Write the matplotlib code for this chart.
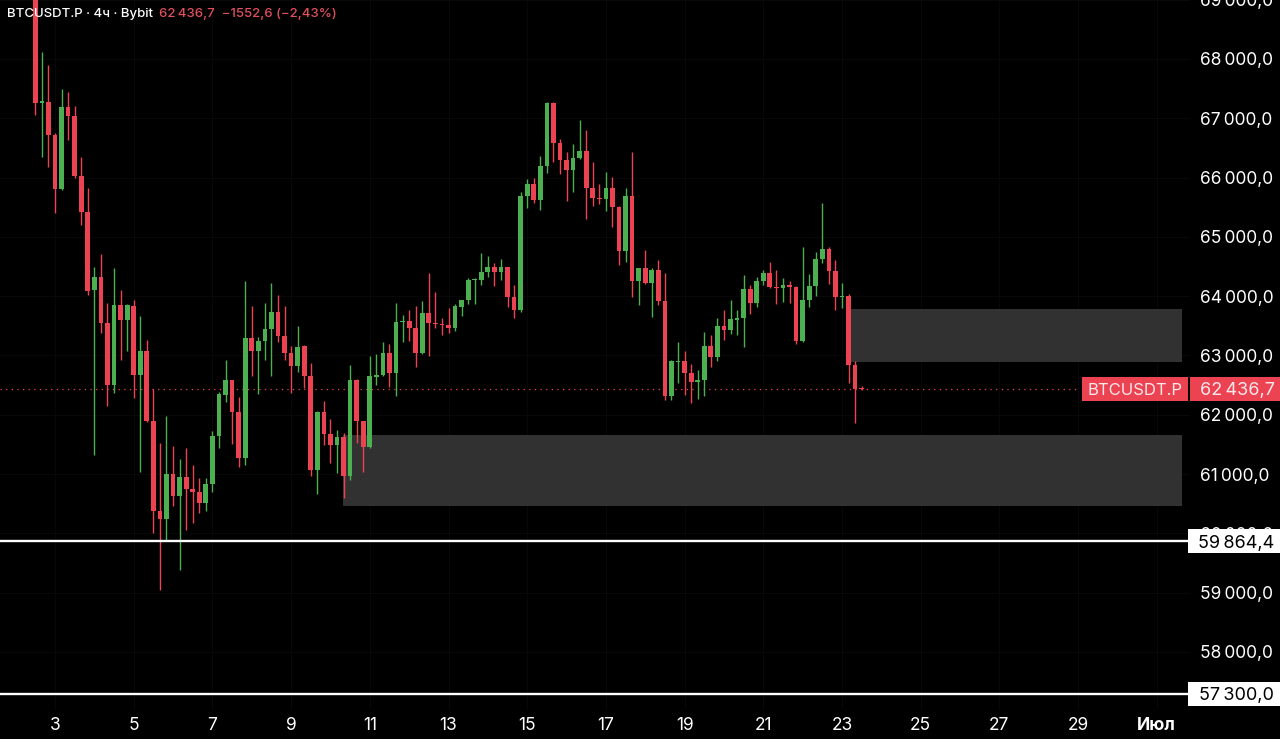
import numpy as np
import matplotlib
matplotlib.use("Agg")
import matplotlib.pyplot as plt
from matplotlib.patches import Rectangle
from matplotlib.ticker import FixedLocator, FuncFormatter
from matplotlib.transforms import blended_transform_factory

plt.rcParams["font.family"] = ["Inter", "DejaVu Sans"]

# BTCUSDT.P 4h candles, first one = 2 June 12:00
opens = [69080, 67260, 67280, 66720, 65810, 67190, 67040, 66030, 65420, 64100,
         64320, 63540, 62500, 63850, 63600, 63840, 62670, 63070, 61900, 60370,
         60240, 61000, 60630, 60950, 60750, 60700, 60520, 60840, 61650, 62340,
         62580, 62040, 61270, 63290, 63070, 63250, 63440, 63730, 63330, 63040,
         62830, 63160, 62660, 61070, 62040, 61680, 61490, 61620, 60960, 62580,
         61890, 61450, 62640, 62670, 63050, 62700, 63560, 63590, 63470, 63040,
         63710, 63540, 63530, 63510, 63470, 63820, 63930, 64270, 64270, 64400,
         64490, 64400, 64490, 63980, 63760, 65690, 65890, 65620, 66200, 67260,
         66580, 66290, 66120, 66330, 66450, 65820, 65650, 65640, 65820, 65500,
         64770, 65690, 64260, 64470, 64230, 64450, 63920, 62310, 62890, 62910,
         62710, 62560, 62580, 63160, 62980, 63490, 63430, 63600, 63630, 64120,
         63890, 64250, 64390, 64150, 64130, 64190, 64160, 63250, 63930, 64170,
         64620, 64790, 64430, 63980, 64010, 62840, 62450]
highs = [69200, 68120, 67900, 66750, 67490, 67450, 67210, 66340, 65820, 64500,
         64720, 63880, 64470, 64100, 63870, 63940, 63670, 63260, 62430, 61520,
         61980, 61480, 61250, 61440, 61150, 60930, 60930, 61720, 62380, 62930,
         62590, 62300, 64250, 63840, 63320, 63880, 64220, 64020, 63840, 63160,
         63500, 63180, 62870, 62060, 62230, 61930, 61750, 61690, 62840, 62600,
         61900, 62990, 63030, 63220, 63190, 63890, 63680, 63760, 63840, 63920,
         64390, 64070, 63640, 63800, 63870, 63940, 64310, 64310, 64730, 64670,
         64560, 64620, 64500, 64190, 65760, 65970, 65990, 66370, 67270, 67280,
         66650, 66440, 66570, 66970, 66800, 66270, 65900, 66100, 66010, 65520,
         65820, 66440, 64480, 64780, 64470, 64610, 64390, 62920, 63230, 63070,
         62860, 62750, 63390, 63340, 63630, 63770, 63940, 63770, 64360, 64190,
         64330, 64450, 64570, 64440, 64300, 64260, 64180, 64830, 64380, 64750,
         65570, 64830, 64610, 64230, 64030, 62900, 62480]
lows = [67060, 66350, 66180, 65400, 65790, 66630, 66000, 65200, 64020, 61320,
        63380, 62140, 62360, 62930, 63070, 62280, 61040, 61880, 60000, 59050,
        59890, 60460, 59380, 60060, 60170, 60340, 60370, 60690, 61440, 62220,
        61510, 61120, 61160, 62660, 62350, 62930, 62660, 63220, 62930, 62370,
        62720, 62450, 60970, 60670, 61490, 61180, 61020, 60590, 60900, 61530,
        61040, 61440, 62500, 62650, 62470, 62310, 63230, 63250, 62800, 63020,
        62990, 63460, 63340, 63380, 63420, 63670, 63870, 63870, 64190, 64330,
        64170, 64270, 63820, 63630, 63740, 65480, 65570, 65460, 66070, 66270,
        66060, 65610, 65760, 66310, 65310, 65520, 65550, 65430, 65160, 64530,
        64570, 63990, 63850, 64200, 63650, 63850, 62250, 62250, 62530, 62340,
        62200, 62260, 62310, 62810, 62910, 63260, 63360, 63340, 63150, 63700,
        63820, 64190, 64130, 63870, 63900, 63890, 63200, 63230, 63820, 64000,
        64560, 64210, 63760, 63800, 62530, 61860, 62420]
closes = [67260, 67290, 66720, 65810, 67190, 67040, 66030, 65420, 64090, 64320,
          63540, 62500, 63850, 63600, 63850, 62670, 63070, 61900, 60370, 60240,
          61000, 60630, 60950, 60750, 60700, 60520, 60840, 61640, 62350, 62580,
          62040, 61270, 63290, 63070, 63250, 63440, 63730, 63330, 63040, 62830,
          63150, 62660, 61070, 62040, 61680, 61490, 61620, 60960, 62580, 61890,
          61450, 62660, 62670, 63050, 62700, 63570, 63590, 63470, 63040, 63710,
          63540, 63530, 63510, 63470, 63840, 63930, 64270, 64290, 64400, 64490,
          64400, 64490, 63980, 63760, 65690, 65890, 65620, 66200, 67260, 66580,
          66290, 66120, 66330, 66450, 65820, 65650, 65640, 65820, 65500, 64770,
          65690, 64260, 64470, 64230, 64450, 63920, 62310, 62900, 62910, 62710,
          62560, 62580, 63160, 62980, 63490, 63430, 63610, 63630, 64120, 63890,
          64250, 64390, 64150, 64130, 64190, 64160, 63250, 63930, 64170, 64620,
          64790, 64430, 63980, 64010, 62840, 62430, 62436.7]

last_price = 62436.7
support_1 = 59864.4
support_2 = 57300.0
zone_hi = (23.10, 31.64, 62890, 63784)   # day from, day to, price low, price high
zone_lo = (10.32, 31.64, 60462, 61659)
price_ticks = list(range(58000, 70000, 1000))
day_ticks = [3, 5, 7, 9, 11, 13, 15, 17, 19, 21, 23, 25, 27, 29, 31]
day_labels = ["3", "5", "7", "9", "11", "13", "15", "17", "19", "21", "23",
              "25", "27", "29", "Июл"]

GREEN = "#4caf50"
RED = "#eb4352"
W, H = 1280, 739


def fmt_price(v, pos=None):
    return f"{v:,.1f}".replace(",", "\u2009").replace(".", ",")


o = np.array(opens, float)
h = np.array(highs, float)
l = np.array(lows, float)
c = np.array(closes, float)
t = 2.5 + np.arange(len(o)) / 6.0
cols = np.where(c >= o, GREEN, RED)

fig = plt.figure(figsize=(W / 100, H / 100), dpi=100, facecolor="black")
ax = fig.add_axes([0, 29 / H, 1190 / W, 715 / H])
ax.set_facecolor("black")
for s in ax.spines.values():
    s.set_visible(False)

# pixel mapping: day 3 -> x 55, 39.35 px/day ; 68000 -> y 59, 59.3 px per 1000
ax.set_xlim(3 - 55 / 39.35, 3 + 1135 / 39.35)
ax.set_ylim(68000 - (710 - 59) / 0.0593, 68000 + 64 / 0.0593)

ax.yaxis.set_major_locator(FixedLocator(price_ticks))
ax.yaxis.set_major_formatter(FuncFormatter(fmt_price))
ax.yaxis.tick_right()
ax.tick_params(axis="y", length=0, pad=7, labelcolor="white", labelsize=12.5)
ax.set_xticks(day_ticks)
ax.set_xticklabels(day_labels)
ax.tick_params(axis="x", length=0, pad=5, labelcolor="white", labelsize=12.5)
ax.get_xticklabels()[-1].set_fontweight("bold")
ax.grid(color="#080808", linewidth=0.8)
ax.set_axisbelow(True)

for z in (zone_hi, zone_lo):
    ax.add_patch(Rectangle((z[0], z[2]), z[1] - z[0], z[3] - z[2],
                           facecolor="#313131", edgecolor="none", zorder=1))

ax.vlines(t, l, h, colors=cols, linewidth=1.0, zorder=3)
ax.bar(t, np.maximum(np.abs(c - o), 22), bottom=np.minimum(o, c),
       width=0.12, color=cols, zorder=4)

ax.axhline(last_price, xmin=0, xmax=1080 / 1190, color=RED,
           linewidth=0.9, linestyle=(0, (1, 3.5)), zorder=2)
ax.axhline(support_1, color="white", linewidth=1.7, zorder=5)
ax.axhline(support_2, color="white", linewidth=1.7, zorder=5)

# price-scale labels
tr = blended_transform_factory(fig.transFigure, ax.transData)
box_h = 24 / 0.0593
labels = [
    (1082, 1188, last_price, "BTCUSDT.P", RED, "#ffe8ea", 12),
    (1190, 1280, last_price, fmt_price(last_price), RED, "#ffe8ea", 13),
    (1188, 1280, support_1, fmt_price(support_1), "white", "black", 13),
    (1188, 1280, support_2, fmt_price(support_2), "white", "black", 13),
]
for x0, x1, y, txt, bg, fg, fs in labels:
    ax.add_patch(Rectangle((x0 / W, y - box_h / 2), (x1 - x0) / W, box_h,
                           transform=tr, facecolor=bg, edgecolor="none",
                           clip_on=False, zorder=8))
    ax.text((x0 + x1) / 2 / W + (2 / W if x0 > 1100 else 0), y, txt,
            transform=tr, ha="center", va="center_baseline", color=fg,
            fontsize=fs, clip_on=False, zorder=9)

fig.text(7 / W, 1 - 14 / H, "BTCUSDT.P · 4ч · Bybit", color="white",
         fontsize=9.5, fontweight="medium", va="center", ha="left")
fig.text(159 / W, 1 - 14 / H, "62\u2009436,7  \u22121552,6 (\u22122,43%)",
         color="#e0505c", fontsize=9.5, fontweight="medium", va="center", ha="left")

fig.savefig("out.png", dpi=100, facecolor=fig.get_facecolor())
